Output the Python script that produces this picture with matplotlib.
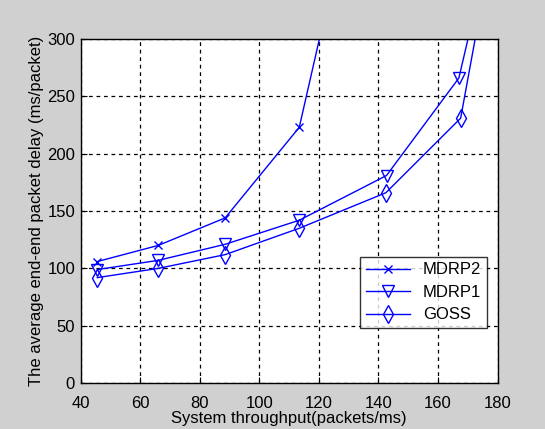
import matplotlib
matplotlib.use("Agg")
import matplotlib.pyplot as plt

# Throughput (packets/ms) and average delay (ms/packet)
mdrp2_x = [45.6, 66.0, 88.5, 113.4, 143.0]
mdrp2_y = [106, 120, 144, 223, 560]

mdrp1_x = [45.6, 66.0, 88.5, 113.4, 142.7, 167.0, 175.0]
mdrp1_y = [99, 107, 121, 142, 181, 266, 355]

goss_x = [45.6, 66.0, 88.5, 113.4, 142.5, 167.6, 175.0]
goss_y = [92, 100, 112, 135, 166, 231, 336]

x_ticks = [40, 60, 80, 100, 120, 140, 160, 180]
y_ticks = [0, 50, 100, 150, 200, 250, 300]

plt.rcParams["font.family"] = ["Liberation Sans", "DejaVu Sans"]

fig = plt.figure(figsize=(5.45, 4.29), dpi=100, facecolor="#d0d0d0")
ax = fig.add_axes([0.148, 0.107, 0.765, 0.802])
ax.set_facecolor("white")

blue = "#0000ff"
ax.plot(mdrp2_x, mdrp2_y, color=blue, lw=1, marker="x", ms=6, mew=1,
        label="MDRP2")
ax.plot(mdrp1_x, mdrp1_y, color=blue, lw=1, marker="v", ms=9, mew=1,
        mfc="none", label="MDRP1")
ax.plot(goss_x, goss_y, color=blue, lw=1, marker="d", ms=9, mew=1,
        mfc="none", label="GOSS")

ax.set_xlim(40, 180)
ax.set_ylim(0, 300)
ax.set_xticks(x_ticks)
ax.set_yticks(y_ticks)
ax.tick_params(direction="in", length=4, labelsize=12, colors="black")
ax.tick_params(axis="x", pad=9)
ax.tick_params(axis="y", pad=4)
ax.grid(True, color="black", linestyle=(0, (3, 3)), lw=0.9)
for s in ax.spines.values():
    s.set_color("black")
    s.set_linewidth(1)

ax.set_xlabel("System throughput(packets/ms)", fontsize=12, labelpad=0)
ax.set_ylabel("The average end-end packet delay (ms/packet)", fontsize=12,
              labelpad=2)

leg = ax.legend(loc="lower right", bbox_to_anchor=(0.995, 0.135),
                fontsize=12, frameon=True, fancybox=False,
                handlelength=2.6, borderpad=0.35, labelspacing=0.45)
leg.get_frame().set_edgecolor("black")
leg.get_frame().set_linewidth(1)

fig.savefig("out.png", dpi=100, facecolor=fig.get_facecolor())
